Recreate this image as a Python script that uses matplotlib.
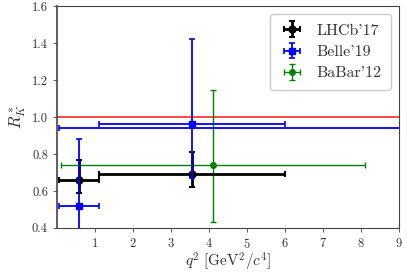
import matplotlib
matplotlib.use("Agg")
import matplotlib.pyplot as plt

plt.rcParams['font.family'] = 'serif'
plt.rcParams['font.serif'] = ['cmr10', 'DejaVu Serif']
plt.rcParams['mathtext.fontset'] = 'cm'
plt.rcParams['axes.formatter.use_mathtext'] = True
plt.rcParams['axes.unicode_minus'] = False

# LHCb'17
lhcb_x = [0.5725, 3.55]
lhcb_xlo = [0.045, 1.1]
lhcb_xhi = [1.1, 6.0]
lhcb_y = [0.66, 0.69]
lhcb_ylo = [0.07, 0.07]
lhcb_yhi = [0.11, 0.12]

# Belle'19
belle_x = [0.5725, 3.55, 9.6]
belle_xlo = [0.045, 1.1, 0.045]
belle_xhi = [1.1, 6.0, 19.0]
belle_y = [0.52, 0.96, 0.94]
belle_ylo = [0.26, 0.29, 0.14]
belle_yhi = [0.36, 0.46, 0.17]

# BaBar'12
babar_x = [4.1]
babar_xlo = [0.1]
babar_xhi = [8.12]
babar_y = [0.74]
babar_ylo = [0.31]
babar_yhi = [0.405]


def xerrs(x, lo, hi):
    return [[c - a for c, a in zip(x, lo)], [b - c for c, b in zip(x, hi)]]


fig, ax = plt.subplots(figsize=(4.07, 2.72), dpi=100)
fig.subplots_adjust(left=0.14, right=0.98, bottom=0.162, top=0.978)

ax.axhline(1.0, color='#ff3b3b', lw=1.3, zorder=1)

ax.errorbar(lhcb_x, lhcb_y, xerr=xerrs(lhcb_x, lhcb_xlo, lhcb_xhi),
            yerr=[lhcb_ylo, lhcb_yhi], fmt='o', color='black', ms=5,
            lw=2, capsize=2, capthick=1.5, label="LHCb'17", zorder=3)
ax.errorbar(belle_x, belle_y, xerr=xerrs(belle_x, belle_xlo, belle_xhi),
            yerr=[belle_ylo, belle_yhi], fmt='s', color='blue', ms=5,
            lw=1.3, capsize=2, capthick=1.2, label="Belle'19", zorder=4)
ax.errorbar(babar_x, babar_y, xerr=xerrs(babar_x, babar_xlo, babar_xhi),
            yerr=[babar_ylo, babar_yhi], fmt='o', color='green', ms=4,
            lw=1.0, capsize=2, capthick=1.0, label="BaBar'12", zorder=2)

ax.set_xlim(0, 9)
ax.set_ylim(0.4, 1.6)
ax.set_xticks(range(1, 10))
ax.set_yticks([0.4, 0.6, 0.8, 1.0, 1.2, 1.4, 1.6])
ax.set_yticklabels(['0.4', '0.6', '0.8', '1.0', '1.2', '1.4', '1.6'])
ax.tick_params(labelsize=9, length=3, width=0.6, color='#444444', labelcolor='#333333')
for s in ax.spines.values():
    s.set_color('#444444')
    s.set_linewidth(0.8)
ax.spines['left'].set_linewidth(1.2)

ax.set_xlabel(r'$q^2\ [\mathrm{GeV}^2/c^4]$', fontsize=11, labelpad=0, color='#333333')
ax.set_ylabel(r'$R^*_K$', fontsize=12, labelpad=2, color='#333333')

leg = ax.legend(loc='upper right', fontsize=11.5, fancybox=True, framealpha=1,
                borderpad=0.6, handletextpad=0.7, handlelength=1.6,
                labelspacing=0.45)
leg.get_frame().set_edgecolor('#cccccc')
for t in leg.get_texts():
    t.set_color('#333333')

fig.savefig('out.png', dpi=100)
